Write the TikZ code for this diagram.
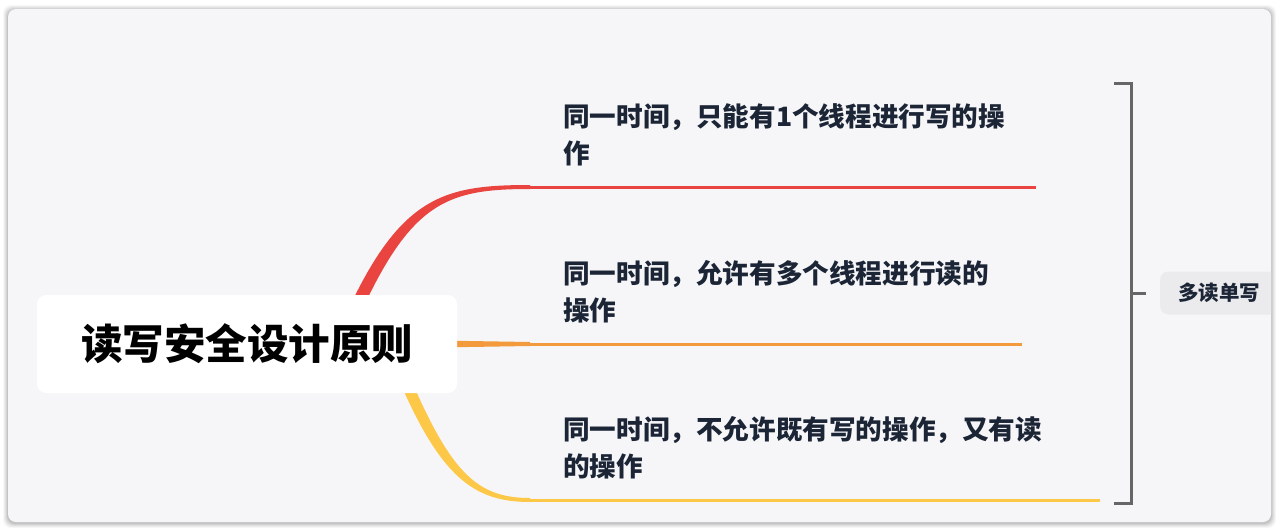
\documentclass[tikz,border=0pt]{standalone}
\usepackage{fontspec}
\newfontfamily\cjk{Noto Sans CJK SC}
\usetikzlibrary{positioning,calc}

\definecolor{panelbg}{HTML}{F6F6F8}
\definecolor{branchred}{HTML}{E9443F}
\definecolor{branchorange}{HTML}{F39A3C}
\definecolor{branchyellow}{HTML}{FDC748}
\definecolor{ink}{HTML}{1B2536}
\definecolor{bracketgray}{HTML}{666666}
\definecolor{tagbg}{HTML}{EBEBED}

\pgfdeclarelayer{panel}
\pgfdeclarelayer{branch}
\pgfsetlayers{panel,branch,main}

\begin{document}
\begin{tikzpicture}[x=1pt,y=-1pt,
  rootbox/.style={fill=white,rounded corners=9pt,minimum width=420pt,minimum height=98pt,
    inner sep=0pt,text=black,font=\cjk\bfseries\fontsize{41.5}{48}\selectfont},
  leaf/.style={inner sep=0pt,align=left,text=ink,font=\cjk\bfseries\fontsize{26.6}{36.5}\selectfont},
  tagbox/.style={fill=tagbg,rounded corners=8pt,minimum width=118pt,minimum height=43pt,
    inner sep=0pt,text=ink,font=\cjk\bfseries\fontsize{20.5}{24}\selectfont},
  bracket/.style={draw=bracketgray,line width=3pt},
  twig/.style={line width=3pt}]

\useasboundingbox (0,0) rectangle (1280,531);

\begin{pgfonlayer}{panel}
\foreach \d/\o in {5/0.03,4/0.04,3/0.05,2/0.06,1/0.08}
  \fill [black,opacity=\o,rounded corners=8pt] (8-\d,9-\d+1) rectangle (1271+\d,522+\d+1);
\fill [panelbg,rounded corners=8pt] (8,9) rectangle (1271,522);
\end{pgfonlayer}

\node [rootbox] (root) at (247,344) {读写安全设计原则};

\coordinate (b1) at (530,187);
\coordinate (e1) at (1036,187);
\coordinate (b2) at (530,344);
\coordinate (e2) at (1022,344);
\coordinate (b3) at (530,500);
\coordinate (e3) at (1100,500);

\begin{pgfonlayer}{branch}
% tapered branches out of the root
\fill [branchred] ($(root.east)+(-124,0)$) .. controls (394,197) and (438,185) .. ($(b1)+(0,-2)$)
  -- ($(b1)+(0,2)$) .. controls (442,189) and (406,203) .. ($(root.east)+(-110,0)$) -- cycle;
\fill [branchorange] ($(root.east)+(-20,-3.5)$) -- ($(b2)+(0,-2)$) -- ($(b2)+(0,2)$)
  -- ($(root.east)+(-20,3.5)$) -- cycle;
\fill [branchyellow] ($(root.east)+(-73,0)$) .. controls (434,472) and (468,502) .. ($(b3)+(0,2)$)
  -- ($(b3)+(0,-2)$) .. controls (472,498) and (446,468) .. ($(root.east)+(-61,0)$) -- cycle;
\end{pgfonlayer}

\draw [twig,branchred] (b1) -- (e1);
\draw [twig,branchorange] (b2) -- (e2);
\draw [twig,branchyellow] (b3) -- (e3);

\node [leaf,above right=21pt and 33pt of b1] (t1) {同一时间，只能有1个线程进行写的操\\作};
\node [leaf,above right=21pt and 33pt of b2] (t2) {同一时间，允许有多个线程进行读的\\操作};
\node [leaf,above right=21pt and 33pt of b3] (t3) {同一时间，不允许既有写的操作，又有读\\的操作};

% summary bracket
\coordinate (kt) at (1131,83);
\coordinate (kb) at (1131,503);
\coordinate (km) at ($(kt)!0.5!(kb)$);
\draw [bracket] ($(kt)+(-17,0)$) -- (kt) -- (kb) -- ($(kb)+(-17,0)$);

\begin{scope}
\clip [rounded corners=8pt] (8,9) rectangle (1271,522);
\node [tagbox,right=29pt of km] (tag) {多读单写};
\end{scope}
\draw [bracket] (km) -- ($(tag.west)+(-14,0)$);

\end{tikzpicture}
\end{document}
